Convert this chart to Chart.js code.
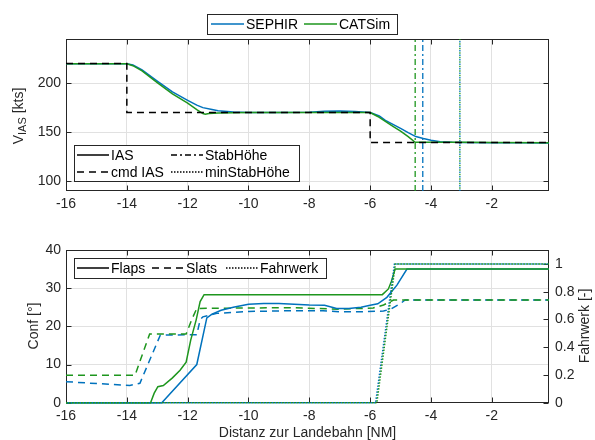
<!DOCTYPE html>
<html>
<head>
<meta charset="utf-8">
<script src="https://cdn.jsdelivr.net/npm/chart.js@4.4.1/dist/chart.umd.min.js"></script>
<style>
    html, body { margin: 0; padding: 0; background: #fff; }
    #wrap { position: relative; width: 595px; height: 440px; }
    .box { position: absolute; left: 0; width: 595px; height: 220px; }
</style>
</head>
<body>
<div id="wrap">
    <div class="box" style="top:0"><canvas id="ias-chart"></canvas></div>
    <div class="box" style="top:220px"><canvas id="conf-chart"></canvas></div>
</div>
<script>
// x-Achse (Distanz zur Landebahn in NM)
const xMin = -16, xMax = -0.12;
const xTicks = [-16, -14, -12, -10, -8, -6, -4, -2];
const iasTicks = [100, 150, 200];
const iasRange = [90, 245];
const confTicks = [0, 10, 20, 30, 40];
const gearTicks = [0, 0.2, 0.4, 0.6, 0.8, 1];
const gearTickLabels = ['0', '0.2', '0.4', '0.6', '0.8', '1'];

// IAS [kts]
const sephirIasX = [-16, -14.1, -14, -13.8, -13.5, -13, -12.5, -12, -11.7, -11.5, -11.2, -11, -10.5, -10, -9, -8, -7.5, -7, -6.5, -6, -5.7, -5.5, -5.25, -5, -4.75, -4.5, -4.25, -4, -3.7, -3.3, -3, -2, -1, -0.12];
const sephirIasY = [219.8, 219.8, 219.8, 218.5, 213.5, 202, 191, 182.5, 177.5, 175, 173, 171.8, 170.5, 170, 170, 170.4, 171.2, 171.6, 171, 170, 166.5, 162, 158, 153.8, 149.5, 145.5, 143.5, 141.8, 140.3, 139.6, 139.4, 139.2, 139.1, 139];
const catsimIasX = [-16, -14, -13.8, -13.5, -13, -12.5, -12, -11.7, -11.5, -11.42, -11.3, -11, -10.5, -10, -8, -6, -5.75, -5.5, -5.25, -5, -4.75, -4.52, -4.4, -4, -3, -2, -0.12];
const catsimIasY = [219.8, 219.8, 217.8, 212.5, 200.5, 189, 179.5, 173, 169, 168.2, 169, 169.6, 169.8, 170, 170, 170, 166, 161, 156, 151, 145.5, 139.6, 139.7, 139.8, 139.6, 139.4, 139.3];
const cmdIasX = [-16, -14, -14, -6, -6, -0.12];
const cmdIasY = [220, 220, 170, 170, 139.5, 139.5];
// [SEPHIR, CATSim]
const stabHoeheX = [-4.27, -4.52];
const minStabHoeheX = [-3.05, -3.05];

// Klappen / Vorflügel [°]
const sephirFlapsX = [-16, -12.85, -11.7, -11.37, -11.2, -10.9, -10.5, -10, -9.5, -9, -8.5, -8, -7.5, -7.1, -6.7, -6.3, -6, -5.75, -5.45, -5.12, -4.79, -0.12];
const sephirFlapsY = [0, 0, 10, 22.2, 23.2, 24.2, 25, 25.8, 26, 26, 25.8, 25.6, 25.5, 24.7, 24.7, 25, 25.5, 25.9, 27.6, 30.8, 35, 35];
const catsimFlapsX = [-16, -13.22, -13.1, -12.98, -12.8, -12.5, -12.25, -12.05, -11.9, -11.72, -11.59, -11.46, -5.6, -5.4, -5.3, -5.18, -0.12];
const catsimFlapsY = [0, 0, 2.5, 4.2, 4.5, 6.5, 8.5, 10.6, 16.4, 21.7, 26.5, 28.3, 28.3, 29.8, 31.8, 35, 35];
const sephirSlatsX = [-16, -13.9, -13.57, -12.9, -11.7, -11.59, -11.5, -11.04, -10, -8.6, -7.55, -7, -6.45, -5.56, -5.3, -5.0, -4.85, -0.12];
const sephirSlatsY = [5.5, 4.5, 5.1, 17.7, 17.8, 21.7, 22.5, 23.4, 23.9, 24.1, 24.1, 23.8, 23.8, 24.0, 24.6, 26, 26.9, 26.9];
const catsimSlatsX = [-16, -13.73, -13.25, -12.05, -11.87, -11.7, -10, -8.6, -7, -5.9, -5.56, -5.23, -0.12];
const catsimSlatsY = [7.2, 7.2, 18, 18, 21.7, 24.7, 24.8, 24.9, 24.5, 24.8, 25.6, 26.9, 26.9];

// Fahrwerk [-]
const sephirGearX = [-16, -5.82, -5.2, -0.12];
const sephirGearY = [0, 0, 1, 1];
const catsimGearX = [-16, -5.78, -5.17, -0.12];
const catsimGearY = [0, 0, 1, 1];

const BLUE = '#0072BD';
const GREEN = '#1e961e';
const GRID = '#e1e1e1';
const AXIS = '#262626';
const FAMILY = "'Liberation Sans', Arial, Helvetica, sans-serif";
const tickFont = { family: FAMILY, size: 14 };

function pts(xs, ys) {
    return xs.map((x, i) => ({ x: x, y: ys[i] }));
}

function xScale(height, title) {
    return {
        type: 'linear',
        min: xMin,
        max: xMax,
        afterBuildTicks: s => { s.ticks = xTicks.map(v => ({ value: v })); },
        afterFit: s => { s.height = height; },
        ticks: { font: tickFont, color: AXIS, padding: 5, maxRotation: 0, autoSkip: false, callback: v => String(v) },
        grid: { color: GRID, drawTicks: false },
        border: { display: false },
        title: title ? { display: true, text: title, font: { family: FAMILY, size: 14, lineHeight: 1 }, color: AXIS, padding: 0 } : { display: false }
    };
}

// Rahmen mit nach innen zeigenden Ticks (wie MATLAB)
const framePlugin = {
    id: 'frame',
    beforeDatasetsDraw(chart) {
        const { ctx, chartArea: a, scales } = chart;
        const L = Math.round(a.left) + 0.5, R = Math.round(a.right) - 0.5;
        const T = Math.round(a.top) + 0.5, B = Math.round(a.bottom) - 0.5;
        ctx.save();
        ctx.strokeStyle = AXIS;
        ctx.lineWidth = 1;
        ctx.strokeRect(L, T, R - L, B - T);
        ctx.beginPath();
        scales.x.ticks.forEach(t => {
            const px = Math.round(scales.x.getPixelForValue(t.value)) + 0.5;
            ctx.moveTo(px, B); ctx.lineTo(px, B - 5);
            ctx.moveTo(px, T); ctx.lineTo(px, T + 5);
        });
        scales.y.ticks.forEach(t => {
            const py = Math.round(scales.y.getPixelForValue(t.value)) + 0.5;
            ctx.moveTo(L, py); ctx.lineTo(L + 5, py);
            if (!scales.y1) { ctx.moveTo(R, py); ctx.lineTo(R - 5, py); }
        });
        if (scales.y1) {
            scales.y1.ticks.forEach(t => {
                const py = Math.round(scales.y1.getPixelForValue(t.value)) + 0.5;
                ctx.moveTo(R, py); ctx.lineTo(R - 5, py);
            });
        }
        ctx.stroke();
        ctx.restore();
    }
};

function drawLegend(ctx, box, items) {
    ctx.save();
    ctx.fillStyle = '#fff';
    ctx.fillRect(box.x, box.y, box.w, box.h);
    ctx.strokeStyle = AXIS;
    ctx.lineWidth = 1;
    ctx.strokeRect(box.x + 0.5, box.y + 0.5, box.w, box.h);
    ctx.font = '14px ' + FAMILY;
    ctx.textBaseline = 'middle';
    items.forEach(it => {
        ctx.beginPath();
        ctx.setLineDash(it.dash || []);
        ctx.strokeStyle = it.color;
        ctx.lineWidth = 1.5;
        ctx.moveTo(it.x, it.y);
        ctx.lineTo(it.x + it.len, it.y);
        ctx.stroke();
        ctx.setLineDash([]);
        ctx.fillStyle = '#000';
        ctx.fillText(it.label, it.x + it.len + 2, it.y + 1);
    });
    ctx.restore();
}

// senkrechte Achsenbeschriftung, von unten nach oben gelesen
function drawVTitle(ctx, x, y, parts) {
    ctx.save();
    ctx.translate(x, y);
    ctx.rotate(-Math.PI / 2);
    ctx.textBaseline = 'middle';
    ctx.fillStyle = AXIS;
    let total = 0;
    parts.forEach(p => { ctx.font = p.size + 'px ' + FAMILY; total += ctx.measureText(p.text).width; });
    let pos = -total / 2;
    parts.forEach(p => {
        ctx.font = p.size + 'px ' + FAMILY;
        ctx.fillText(p.text, pos, p.dy || 0);
        pos += ctx.measureText(p.text).width;
    });
    ctx.restore();
}

const iasDecor = {
    id: 'iasDecor',
    afterDraw(chart) {
        const ctx = chart.ctx;
        drawVTitle(ctx, 19, 116, [
            { text: 'V', size: 14 },
            { text: 'IAS', size: 11, dy: 4 },
            { text: ' [kts]', size: 14 }
        ]);
        drawLegend(ctx, { x: 207, y: 14, w: 190, h: 20 }, [
            { label: 'SEPHIR', color: BLUE, x: 211, y: 24, len: 33 },
            { label: 'CATSim', color: GREEN, x: 304, y: 24, len: 33 }
        ]);
        drawLegend(ctx, { x: 74, y: 145, w: 225, h: 36 }, [
            { label: 'IAS', color: '#000', x: 77, y: 155, len: 32 },
            { label: 'cmd IAS', color: '#000', dash: [7, 5], x: 77, y: 172, len: 32 },
            { label: 'StabHöhe', color: '#000', dash: [6, 3, 2, 3], x: 171, y: 155, len: 32 },
            { label: 'minStabHöhe', color: '#000', dash: [1.5, 1.5], x: 171, y: 172, len: 32 }
        ]);
    }
};

const confDecor = {
    id: 'confDecor',
    afterDraw(chart) {
        const ctx = chart.ctx;
        drawVTitle(ctx, 34, 106, [{ text: 'Conf [°]', size: 14 }]);
        drawVTitle(ctx, 585, 106, [{ text: 'Fahrwerk [-]', size: 14 }]);
        drawLegend(ctx, { x: 74, y: 38, w: 252, h: 20 }, [
            { label: 'Flaps', color: '#000', x: 77, y: 48, len: 32 },
            { label: 'Slats', color: '#000', dash: [7, 5], x: 152, y: 48, len: 32 },
            { label: 'Fahrwerk', color: '#000', dash: [1.5, 1.5], x: 226, y: 48, len: 32 }
        ]);
    }
};

const vline = (x, color, dash) => ({
    data: pts([x, x], iasRange),
    borderColor: color,
    borderDash: dash,
    borderWidth: 1.3,
    order: 5
});

window.onload = function () {
    new Chart(document.getElementById('ias-chart'), {
        type: 'line',
        data: {
            datasets: [
                { label: 'cmd IAS', data: pts(cmdIasX, cmdIasY), borderColor: '#000', borderDash: [7, 5], borderWidth: 1.5, order: 0 },
                { label: 'CATSim', data: pts(catsimIasX, catsimIasY), borderColor: GREEN, borderWidth: 1.5, order: 1 },
                { label: 'SEPHIR', data: pts(sephirIasX, sephirIasY), borderColor: BLUE, borderWidth: 1.5, order: 2 },
                vline(stabHoeheX[0], BLUE, [6, 3, 2, 3]),
                vline(stabHoeheX[1], GREEN, [6, 3, 2, 3]),
                vline(minStabHoeheX[0], BLUE, [1.5, 3]),
                Object.assign(vline(minStabHoeheX[1], GREEN, [1.5, 3]), { borderDashOffset: 2.2 })
            ]
        },
        options: {
            responsive: true,
            maintainAspectRatio: false,
            animation: false,
            devicePixelRatio: 1,
            layout: { padding: { top: 39, right: 46, left: 0, bottom: 0 } },
            elements: { point: { radius: 0 }, line: { tension: 0, fill: false } },
            plugins: { legend: { display: false }, tooltip: { enabled: false } },
            scales: {
                x: xScale(29),
                y: {
                    min: iasRange[0],
                    max: iasRange[1],
                    afterBuildTicks: s => { s.ticks = iasTicks.map(v => ({ value: v })); },
                    afterFit: s => { s.width = 66; },
                    ticks: { font: tickFont, color: AXIS, padding: 5 },
                    grid: { color: GRID, drawTicks: false },
                    border: { display: false }
                }
            }
        },
        plugins: [framePlugin, iasDecor]
    });

    new Chart(document.getElementById('conf-chart'), {
        type: 'line',
        data: {
            datasets: [
                { label: 'Fahrwerk CATSim', data: pts(catsimGearX, catsimGearY), yAxisID: 'y1', borderColor: GREEN, borderDash: [1.5, 1.5], borderWidth: 1.5, clip: 3, order: 0 },
                { label: 'Fahrwerk SEPHIR', data: pts(sephirGearX, sephirGearY), yAxisID: 'y1', borderColor: BLUE, borderDash: [1.5, 1.5], borderDashOffset: 1.5, borderWidth: 1.5, clip: 3, order: 1 },
                { label: 'Flaps CATSim', data: pts(catsimFlapsX, catsimFlapsY), borderColor: GREEN, borderWidth: 1.5, clip: 3, order: 2 },
                { label: 'Flaps SEPHIR', data: pts(sephirFlapsX, sephirFlapsY), borderColor: BLUE, borderWidth: 1.5, clip: 3, order: 3 },
                { label: 'Slats CATSim', data: pts(catsimSlatsX, catsimSlatsY), borderColor: GREEN, borderDash: [7, 5], borderWidth: 1.5, clip: 3, order: 4 },
                { label: 'Slats SEPHIR', data: pts(sephirSlatsX, sephirSlatsY), borderColor: BLUE, borderDash: [7, 5], borderWidth: 1.5, clip: 3, order: 5 }
            ]
        },
        options: {
            responsive: true,
            maintainAspectRatio: false,
            animation: false,
            devicePixelRatio: 1,
            layout: { padding: { top: 30, right: 0, left: 0, bottom: 0 } },
            elements: { point: { radius: 0 }, line: { tension: 0, fill: false } },
            plugins: { legend: { display: false }, tooltip: { enabled: false } },
            scales: {
                x: xScale(37.3, 'Distanz zur Landebahn [NM]'),
                y: {
                    position: 'left',
                    min: 0,
                    max: 40,
                    afterBuildTicks: s => { s.ticks = confTicks.map(v => ({ value: v })); },
                    afterFit: s => { s.width = 66; },
                    ticks: { font: tickFont, color: AXIS, padding: 5 },
                    grid: { color: GRID, drawTicks: false },
                    border: { display: false }
                },
                y1: {
                    position: 'right',
                    min: 0,
                    max: 1.1,
                    afterBuildTicks: s => { s.ticks = gearTicks.map(v => ({ value: v })); },
                    afterFit: s => { s.width = 46; },
                    ticks: { font: tickFont, color: AXIS, padding: 6, callback: (v, i) => gearTickLabels[i] },
                    grid: { drawOnChartArea: false, drawTicks: false },
                    border: { display: false }
                }
            }
        },
        plugins: [framePlugin, confDecor]
    });
};
</script>
</body>
</html>
